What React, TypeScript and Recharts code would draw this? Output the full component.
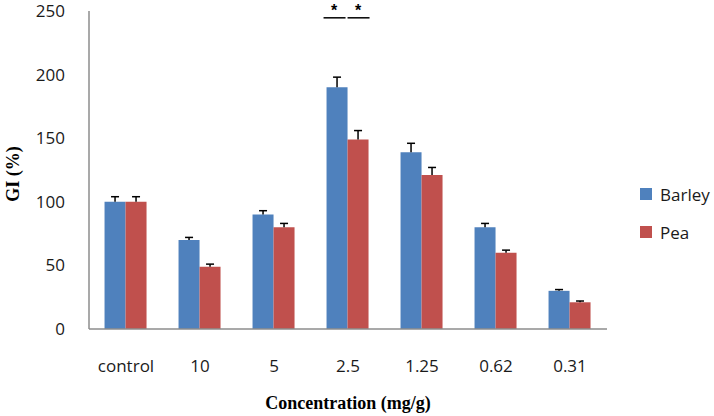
import React from 'react';
import { BarChart, Bar, XAxis, YAxis, LabelList, Legend } from 'recharts';

const categories = ['control', '10', '5', '2.5', '1.25', '0.62', '0.31'];
const barley = [100, 70, 90, 190, 139, 80, 30];
const barleyErr = [4, 2, 3, 8, 7, 3, 1];
const pea = [100, 49, 80, 149, 121, 60, 21];
const peaErr = [4, 2, 3, 7, 6, 2, 1];
const significant = ['', '', '', '*', '', '', ''];
const yTicks = [0, 50, 100, 150, 200, 250];

const data = categories.map((name, i) => ({
    name,
    Barley: barley[i],
    Pea: pea[i],
    sig: significant[i],
}));

const tickFont = { fill: '#1a1a1a', fontSize: 17, fontFamily: '"Open Sans", sans-serif' };

// draws the upper-only error whisker (T) plus the significance star above the bar
const makeMarks = (values: number[], errs: number[], shift: number) => (props: any) => {
    const { x, y, width, height, index } = props;
    const k = height / values[index];
    const cx = x + width / 2;
    const top = y - errs[index] * k;
    const base = y + height;
    const star = significant[index];
    const starY = base - 247 * k;
    return (
        <g>
            <line x1={cx} x2={cx} y1={y} y2={top} stroke="#000" strokeWidth={1.5} />
            <line x1={cx - 4} x2={cx + 4} y1={top} y2={top} stroke="#000" strokeWidth={1.5} />
            {star && (
                <g>
                    <text x={cx + shift} y={starY + 1} textAnchor="middle" fontSize={16} fontWeight="bold"
                        fontFamily='"Liberation Sans", sans-serif' fill="#000">{star}</text>
                    <line x1={x + shift} x2={x + width + shift + 1} y1={starY + 3} y2={starY + 3}
                        stroke="#000" strokeWidth={1.5} />
                </g>
            )}
        </g>
    );
};

const renderLegend = (props: any) => {
    const { payload } = props;
    return (
        <div>
            {payload.map((entry: any) => (
                <div key={entry.value} style={{ display: 'flex', alignItems: 'center', height: 38 }}>
                    <span style={{ width: 12, height: 12, background: entry.color, marginRight: 8 }} />
                    <span style={{ fontSize: 17, fontFamily: '"Open Sans", sans-serif', color: '#1a1a1a' }}>{entry.value}</span>
                </div>
            ))}
        </div>
    );
};

const App: React.FC = () => {
    return (
        <div style={{ position: 'absolute', left: 0, top: 0, background: '#fff' }}>
            <BarChart
                width={714}
                height={416}
                data={data}
                margin={{ top: 11, right: 107, left: 0, bottom: 57 }}
                barCategoryGap="21%"
                barGap={0}
            >
                <XAxis
                    dataKey="name"
                    height={30}
                    tick={tickFont}
                    tickLine={false}
                    axisLine={{ stroke: '#8c8c8c', strokeWidth: 1.5 }}
                    tickMargin={25}
                    label={{ value: 'Concentration (mg/g)', position: 'insideBottom', offset: -50, fill: '#000',
                        fontSize: 18, fontWeight: 'bold', fontFamily: '"Liberation Serif", serif' }}
                />
                <YAxis
                    width={89}
                    domain={[0, 250]}
                    ticks={yTicks}
                    tick={tickFont}
                    tickLine={false}
                    axisLine={{ stroke: '#8c8c8c', strokeWidth: 1.5 }}
                    tickMargin={18}
                    label={{ value: 'GI (%)', angle: -90, position: 'insideLeft', offset: 13, dy: 4, fill: '#000',
                        textAnchor: 'middle', fontSize: 18, fontWeight: 'bold', fontFamily: '"Liberation Serif", serif' }}
                />
                <Legend
                    layout="horizontal"
                    verticalAlign="middle"
                    align="center"
                    content={renderLegend}
                    wrapperStyle={{ left: 640, top: 175, width: 80 }}
                />
                <Bar dataKey="Barley" fill="#4f81bd" isAnimationActive={false}>
                    <LabelList dataKey="sig" content={makeMarks(barley, barleyErr, -3)} />
                </Bar>
                <Bar dataKey="Pea" fill="#c0504d" isAnimationActive={false}>
                    <LabelList dataKey="sig" content={makeMarks(pea, peaErr, 0)} />
                </Bar>
            </BarChart>
        </div>
    );
};

export default App;
